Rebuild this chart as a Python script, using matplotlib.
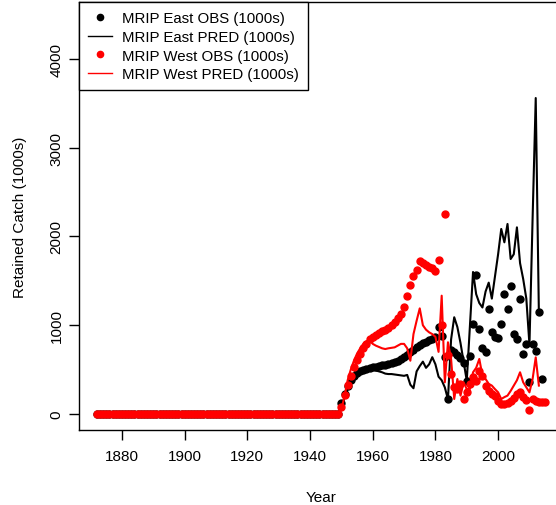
import numpy as np
import matplotlib
matplotlib.use("Agg")
import matplotlib.pyplot as plt
from matplotlib.lines import Line2D

plt.rcParams['font.family'] = ['Liberation Sans', 'DejaVu Sans']

# Years: flat zero catch 1872-1949, then the modern series 1950-2015
early_years = list(range(1872, 1950))
early_catch = [0] * len(early_years)
years = list(range(1950, 2016))

nan = np.nan

# MRIP East observed (1000s)
east_obs = [120, 220, 310, 380, 430, 460, 480, 495, 505, 515,
            525, 530, 540, 548, 555, 563, 572, 582, 595, 615,
            640, 665, 695, 725, 750, 775, 795, 810, 830, 850,
            865, 980, 880, 640, 170, 720, 700, 660, 630, 580,
            375, 657, 1014, 1570, 958, 740, 700, 1183, 920, 864,
            853, 1014, 1352, 1183, 1446, 900, 845, 1296, 676, 789,
            360, 789, 713, 1153, 394, nan]

# MRIP East predicted (1000s)
east_pred = [80, 180, 280, 350, 400, 440, 470, 490, 500, 505,
             500, 490, 480, 470, 455, 450, 450, 445, 440, 435,
             430, 440, 330, 290, 480, 540, 590, 520, 560, 640,
             560, 420, 380, 300, 165, 840, 1090, 980, 800, 590,
             375, 990, 1600, 1350, 1250, 1200, 1380, 1480, 1300, 1550,
             1800, 2085, 1934, 2141, 1746, 1800, 2103, 1700, 1521, 1300,
             780, 2200, 3560, 1150, nan, nan]

# MRIP West observed (1000s)
west_obs = [80, 210, 330, 430, 530, 610, 680, 740, 790, 840,
            870, 895, 915, 930, 950, 970, 1000, 1040, 1080, 1130,
            1200, 1330, 1450, 1550, 1620, 1720, 1700, 1680, 1660, 1640,
            1610, 1740, 1000, 2254, 660, 450, 300, 282, 338, 169,
            250, 338, 420, 375, 488, 432, 320, 260, 225, 207,
            150, 110, 110, 120, 150, 180, 220, 250, 188, 160,
            40, 169, 150, 131, 131, 135]

# MRIP West predicted (1000s)
west_pred = [50, 200, 380, 500, 600, 680, 740, 790, 820, 830,
             790, 770, 755, 740, 732, 740, 745, 751, 770, 790,
             790, 740, 600, 900, 1050, 1190, 1000, 950, 920, 900,
             870, 700, 1333, 357, 808, 620, 169, 394, 207, 357,
             280, 282, 470, 520, 620, 432, 394, 340, 320, 280,
             244, 169, 190, 207, 260, 320, 380, 470, 357, 300,
             244, 394, 638, 320, nan, nan]

x = early_years + years

fig = plt.figure(figsize=(5.56, 5.06), dpi=100)
ax = fig.add_axes([79 / 556, 1 - 430.7 / 506, (563 - 79) / 556, 427.7 / 506])

ax.plot(x, early_catch + east_obs, 'o', color='black', markersize=5, zorder=2)
ax.plot(x, early_catch + east_pred, '-', color='black', linewidth=1.5, zorder=3)
ax.plot(x, early_catch + west_obs, 'o', color='red', markersize=5, zorder=4)
ax.plot(x, early_catch + west_pred, '-', color='red', linewidth=1.5, zorder=5)

ax.set_xlim(1866.3, 2020.7)
ax.set_ylim(-177, 4642)
ax.set_xticks([1880, 1900, 1920, 1940, 1960, 1980, 2000])
ax.set_yticks([0, 1000, 2000, 3000, 4000])
ax.tick_params(direction='out', length=7, width=1, labelsize=11)
ax.tick_params(axis='x', pad=7)
ax.tick_params(axis='y', pad=4)
for lab in ax.get_yticklabels():
    lab.set_rotation(90)
    lab.set_va('center')
for sp in ax.spines.values():
    sp.set_linewidth(1)

ax.set_xlabel("Year", fontsize=11, labelpad=19)
ax.set_ylabel("Retained Catch (1000s)", fontsize=11, labelpad=16)

# Legend in the top-left corner, R style
handles = [
    Line2D([], [], linestyle='none', marker='o', color='black', markersize=4.5),
    Line2D([], [], color='black', linewidth=1),
    Line2D([], [], linestyle='none', marker='o', color='red', markersize=4.5),
    Line2D([], [], color='red', linewidth=1),
]
labels = ["MRIP East OBS (1000s)", "MRIP East PRED (1000s)",
          "MRIP West OBS (1000s)", "MRIP West PRED (1000s)"]
leg = ax.legend(handles, labels, loc='upper left', bbox_to_anchor=(0, 1),
                borderaxespad=0, fontsize=10.8, fancybox=False, framealpha=1,
                edgecolor='black', handlelength=1.6, handletextpad=0.7,
                labelspacing=0.32, borderpad=0.6)
leg.get_frame().set_linewidth(1)

fig.savefig("out.png", dpi=100)
